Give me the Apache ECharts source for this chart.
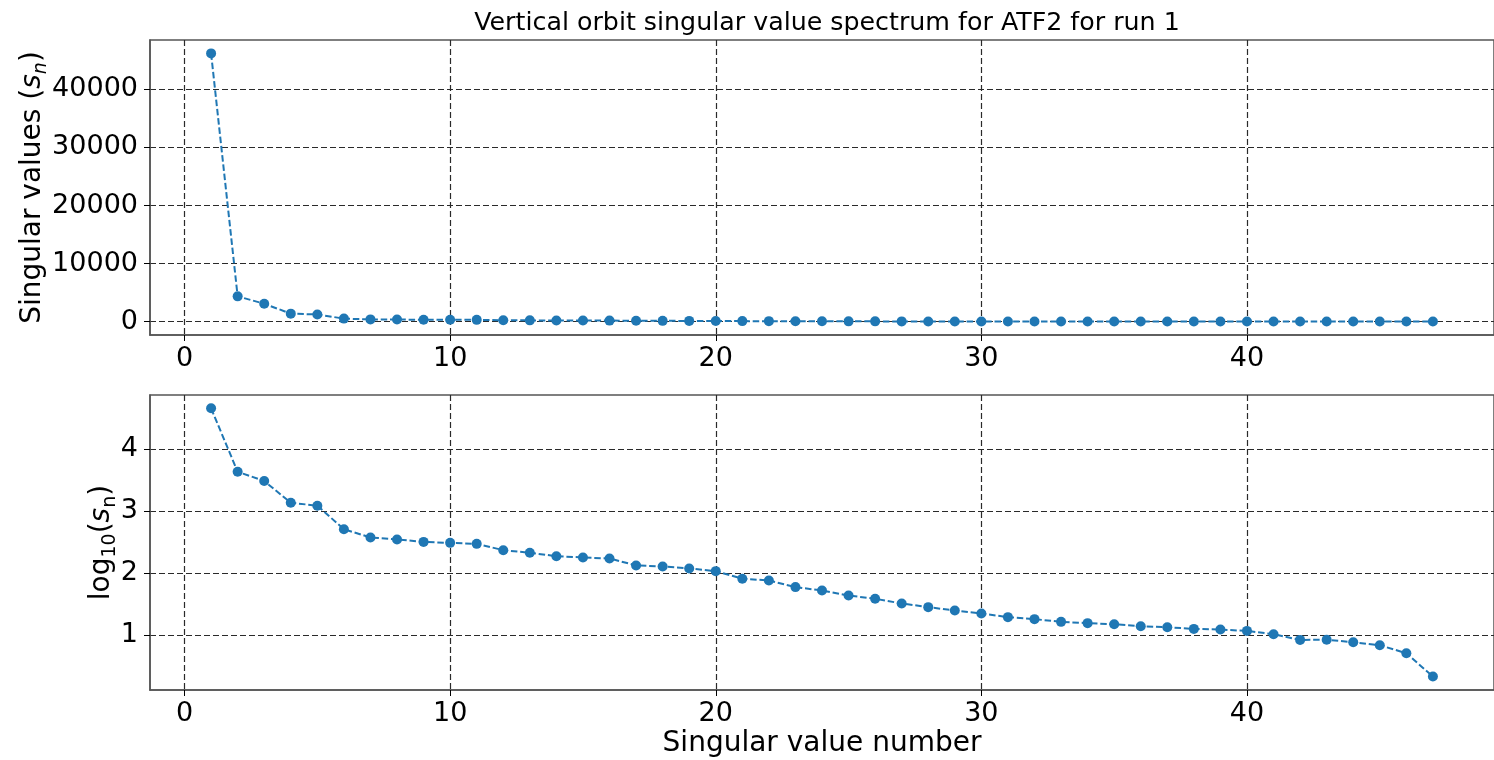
<!DOCTYPE html>
<html>
<head>
<meta charset="utf-8">
<script src="https://cdn.jsdelivr.net/npm/echarts@6/dist/echarts.min.js"></script>
<style>
html,body{margin:0;padding:0;background:#fff;}
#chart{width:1494px;height:760px;}
</style>
</head>
<body>
<div id="chart"></div>
<script>
// ---- data ----
const svNumber = [1,2,3,4,5,6,7,8,9,10,11,12,13,14,15,16,17,18,19,20,21,22,23,24,25,26,27,28,29,30,31,32,33,34,35,36,37,38,39,40,41,42,43,44,45,46,47];
const singularValues = [46200,4345,3076,1371,1227,512,376,349,319,308,296,234,212,188,179,172,133,128,119,107,81,76,59,52,43,38,32,28,25,22,19.4,18.0,16.3,15.5,14.9,13.8,13.3,12.5,12.2,11.6,10.3,8.3,8.4,7.6,6.8,5.06,2.12];
const logSingularValues = [4.664,3.638,3.488,3.137,3.089,2.709,2.575,2.543,2.504,2.488,2.472,2.370,2.327,2.273,2.252,2.236,2.123,2.107,2.074,2.031,1.908,1.880,1.773,1.718,1.637,1.584,1.508,1.449,1.394,1.346,1.287,1.255,1.211,1.190,1.173,1.141,1.125,1.097,1.086,1.065,1.011,0.919,0.922,0.882,0.833,0.704,0.326];
const xTickValues = [0,10,20,30,40];
const topYTickValues = [0,10000,20000,30000,40000];
const bottomYTickValues = [1,2,3,4];

const titleText = 'Vertical orbit singular value spectrum for ATF2 for run 1';
const xAxisTitle = 'Singular value number';

// ---- styling ----
const FONT = 'DejaVu Sans';
const BLUE = '#1f77b4';
const TICK_FS = 27;
const NAME_FS = 28;
const gridLine = {show:true, lineStyle:{color:'#2a2a2a', type:[6,3], width:1.2}};
const frame = '#555';

function xAxisCfg(idx, withName) {
  return {
    type:'value', gridIndex:idx, min:-1.3, max:49.3,
    axisLine:{show:true, onZero:false, lineStyle:{color:frame, width:1.5}},
    axisTick:{show:true, length:6, customValues:xTickValues, lineStyle:{color:'#000', width:1}},
    axisLabel:{customValues:xTickValues, fontSize:TICK_FS, color:'#000', fontFamily:FONT, margin:10, formatter:v=>String(v)},
    splitLine:gridLine,
    name: withName ? xAxisTitle : '',
    nameLocation:'middle', nameGap:40, nameMoveOverlap:false,
    nameTextStyle:{fontSize:NAME_FS, color:'#000', fontFamily:FONT}
  };
}

const nameRich = {
  a:{fontSize:NAME_FS, lineHeight:36, fontFamily:FONT, color:'#000'},
  i:{fontSize:NAME_FS, lineHeight:36, fontStyle:'italic', fontFamily:FONT, color:'#000'},
  subi:{fontSize:19, lineHeight:19, fontStyle:'italic', verticalAlign:'bottom', fontFamily:FONT, color:'#000'},
  sub:{fontSize:19, lineHeight:19, verticalAlign:'bottom', fontFamily:FONT, color:'#000'}
};

const option = {
  backgroundColor:'#fff',
  animation:false,
  title:{
    text:titleText, left:822, top:18.5, textAlign:'center', textVerticalAlign:'middle',
    textStyle:{fontSize:25.3, fontWeight:'normal', color:'#000', fontFamily:FONT}
  },
  grid:[
    {left:150, top:40, width:1350, height:295, show:true, borderColor:frame, borderWidth:1.5, backgroundColor:'transparent'},
    {left:150, top:395, width:1350, height:295, show:true, borderColor:frame, borderWidth:1.5, backgroundColor:'transparent'}
  ],
  xAxis:[xAxisCfg(0,false), xAxisCfg(1,true)],
  yAxis:[
    {
      type:'value', gridIndex:0, min:-2310, max:48510,
      axisLine:{show:true, onZero:false, lineStyle:{color:frame, width:1.5}},
      axisTick:{show:true, length:6, customValues:topYTickValues, lineStyle:{color:'#000', width:1}},
      axisLabel:{customValues:topYTickValues, fontSize:TICK_FS, color:'#000', fontFamily:FONT, margin:12, formatter:v=>String(v)},
      splitLine:gridLine,
      name:'{a|Singular values (}{i|s}{subi|n}{a|)}',
      nameLocation:'middle', nameRotate:90, nameGap:99, nameMoveOverlap:false,
      nameTextStyle:{fontSize:NAME_FS, color:'#000', fontFamily:FONT, rich:nameRich}
    },
    {
      type:'value', gridIndex:1, min:0.109, max:4.879,
      axisLine:{show:true, onZero:false, lineStyle:{color:frame, width:1.5}},
      axisTick:{show:true, length:6, customValues:bottomYTickValues, lineStyle:{color:'#000', width:1}},
      axisLabel:{customValues:bottomYTickValues, fontSize:TICK_FS, color:'#000', fontFamily:FONT, margin:12, formatter:v=>String(v)},
      splitLine:gridLine,
      name:'{a|log}{sub|10}{a|(}{i|s}{sub|n}{a|)}',
      nameLocation:'middle', nameRotate:90, nameGap:30, nameMoveOverlap:false,
      nameTextStyle:{fontSize:NAME_FS, color:'#000', fontFamily:FONT, rich:nameRich}
    }
  ],
  series:[
    {
      type:'line', xAxisIndex:0, yAxisIndex:0,
      data: svNumber.map((n,i)=>[n, singularValues[i]]),
      symbol:'circle', symbolSize:10, showAllSymbol:true,
      lineStyle:{color:BLUE, width:2, type:[6.5,2.8]},
      itemStyle:{color:BLUE},
      emphasis:{disabled:true}, silent:true
    },
    {
      type:'line', xAxisIndex:1, yAxisIndex:1,
      data: svNumber.map((n,i)=>[n, logSingularValues[i]]),
      symbol:'circle', symbolSize:10, showAllSymbol:true,
      lineStyle:{color:BLUE, width:2, type:[6.5,2.8]},
      itemStyle:{color:BLUE},
      emphasis:{disabled:true}, silent:true
    }
  ]
};

const chart = echarts.init(document.getElementById('chart'), null, {renderer:'canvas'});
chart.setOption(option);
</script>
</body>
</html>
